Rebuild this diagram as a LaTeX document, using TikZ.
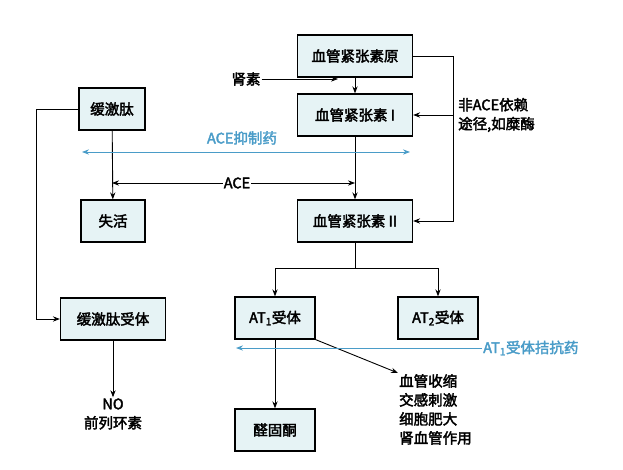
\documentclass[tikz,border=0pt]{standalone}
\usepackage{fontspec}
\setmainfont{Noto Sans CJK SC}[FakeBold=2.5]
\usetikzlibrary{arrows.meta,positioning}
\definecolor{boxfill}{HTML}{E6F3F5}
\definecolor{drugblue}{HTML}{4A9CC8}
\tikzset{
  box/.style={draw, line width=1.2pt, fill=boxfill, minimum height=42pt, inner xsep=4pt},
  arr/.style={-{Stealth[length=7pt]}, line width=0.9pt},
  drug/.style={{Stealth[length=7pt]}-{Stealth[length=7pt]}, drugblue, line width=0.9pt},
  lbl/.style={inner sep=1pt}
}
\begin{document}
\begin{tikzpicture}[x=1pt, y=-1pt, font=\fontsize{14.5}{19}\selectfont]
	\useasboundingbox (0,0) rectangle (623,470); % Rand
	
	% Kaesten
	\node[box, minimum width=115pt] (ago) at (355,56) {血管紧张素原};
	\node[box, minimum width=115pt] (angI) at (355,115) {血管紧张素 I};
	\node[box, minimum width=115pt] (angII) at (355,221) {血管紧张素 II};
	\node[box, minimum width=66pt] (brady) at (112,109) {缓激肽};
	\node[box, minimum width=64pt] (inact) at (113,221) {失活};
	\node[box, minimum width=105pt] (brr) at (113,319) {缓激肽受体};
	\node[box, minimum width=80pt] (at1) at (275,318) {AT\textsubscript{1}受体};
	\node[box, minimum width=80pt] (at2) at (438,318) {AT\textsubscript{2}受体};
	\node[box, minimum width=80pt] (ald) at (275,430) {醛固酮};
	
	% Texte
	\node[lbl] (renin) at (246,79) {肾素};
	\node[lbl, align=left, anchor=west] (nonace) at (457,115) {非ACE依赖\\途径,如糜酶};
	\node[lbl, drugblue] (acei) at (242,138) {ACE抑制药};
	\node[lbl] (ace) at (237,183) {ACE};
	\node[lbl, align=center] (no) at (113,414) {NO\\前列环素};
	\node[lbl, align=left, anchor=north west] (eff) at (398,373) {血管收缩\\交感刺激\\细胞肥大\\肾血管作用};
	\node[lbl, drugblue, anchor=west] (arb) at (482,348) {AT\textsubscript{1}受体拮抗药};
	
	\coordinate (renend) at (338,79);
	\coordinate (acel) at (82,152);
	\coordinate (acer) at (410,152);
	\coordinate (split) at (355,268);
	\coordinate (arbend) at (236,348);
	
	% Pfeile
	\draw[arr] (ago) -- (angI);
	\draw[arr] (renin) -- (renend);
	\draw[arr] (angI) -- (angII);
	\draw[arr] (ago.east) -- ++(40,0) |- (angI.east);
	\draw[arr] (ago.east) -- ++(40,0) |- (angII.east);
	\draw[arr] (brady) -- (inact);
	\draw[arr] (brady.west) -- ++(-42,0) |- (brr.west);
	\draw[arr] (ace) -- (angI |- ace);
	\draw[arr] (ace) -- (brady |- ace);
	\draw[drug] (acel) -- (acer);
	\draw[arr] (angII) -- (split) -| (at1);
	\draw[arr] (split) -| (at2);
	\draw[arr] (at1) -- (ald);
	\draw[arr] (at1.south east) -- (eff.north west);
	\draw[arr] (brr) -- (no);
	\draw[-{Stealth[length=7pt]}, drugblue, line width=0.9pt] (arb) -- (arbend);
\end{tikzpicture}
\end{document}
